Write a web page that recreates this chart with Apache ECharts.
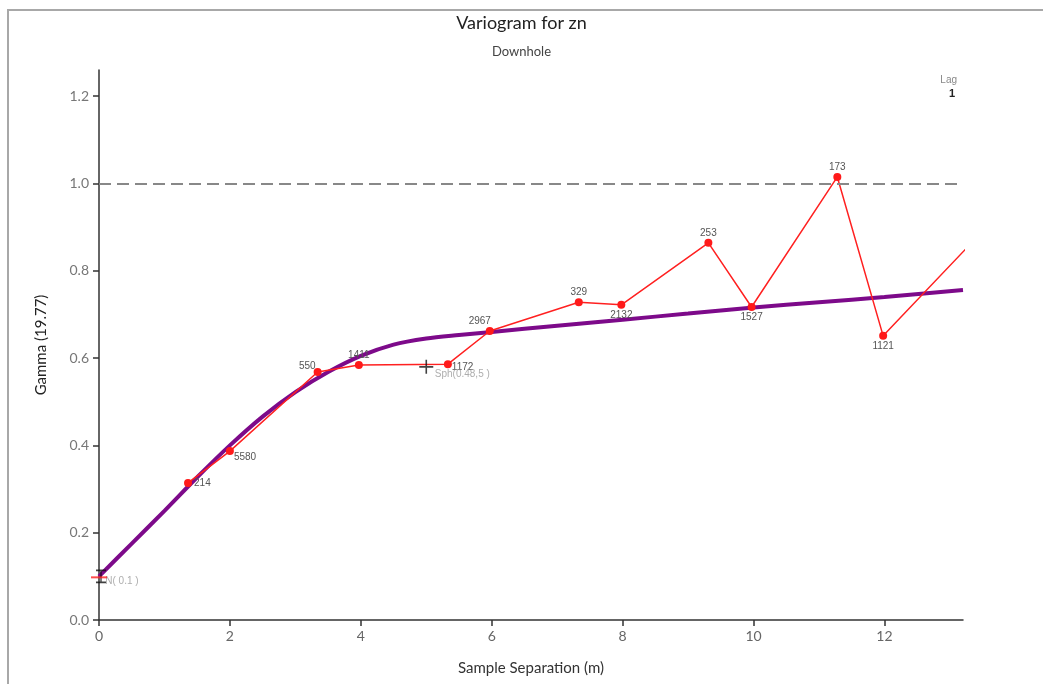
<!DOCTYPE html>
<html>
<head>
<meta charset="utf-8">
<title>Variogram for zn</title>
<script src="https://cdn.jsdelivr.net/npm/echarts@6/dist/echarts.min.js"></script>
<style>
  html, body { margin: 0; padding: 0; background: #fff; }
  #chart { width: 1043px; height: 684px; }
</style>
</head>
<body>
<div id="chart"></div>
<script>
// Experimental variogram: lag distance (m), gamma, and pair count per lag
const lagDistance = [1.36, 2.0, 3.34, 3.97, 5.33, 5.97, 7.33, 7.98, 9.31, 9.97, 11.28, 11.98, 13.4];
const gammaValues = [0.314, 0.387, 0.568, 0.584, 0.586, 0.662, 0.728, 0.722, 0.864, 0.717, 1.015, 0.651, 0.875];
const pairCounts = ['214', '5580', '550', '1411', '1172', '2967', '329', '2132', '253', '1527', '173', '1121', ''];

// Fitted model curve (nugget + spherical + long-range structure)
const modelDistance = [0, 0.5, 1, 1.5, 2, 2.5, 3, 3.5, 4, 4.5, 5, 5.5, 6, 7, 8, 9, 10, 11, 12, 13.2];
const modelGamma = [0.100, 0.175, 0.250, 0.327, 0.400, 0.466, 0.522, 0.568, 0.605, 0.631, 0.645, 0.653, 0.660, 0.674, 0.688, 0.702, 0.716, 0.728, 0.740, 0.756];

// Model annotations
const nugget = 0.1;
const sphRange = 5;
const sphSill = 0.48;
const nuggetLabel = 'N( 0.1 )';
const sphLabel = 'Sph(0.48,5 )';

const sillLevel = 1.0;
const xTicks = [0, 2, 4, 6, 8, 10, 12];
const yTicks = [0, 0.2, 0.4, 0.6, 0.8, 1.0, 1.2];

// label placement around each lag point
const labelSide = ['right', 'right', 'left', 'top', 'right', 'top', 'top', 'bottom', 'top', 'bottom', 'top', 'bottom', 'top'];
const labelShift = {
  right: [0, 0], left: [4, -6], top: [0, 1], bottom: [0, -1]
};

const FONT = 'Lato, "Open Sans", sans-serif';
const SMALL = '"Liberation Sans", Arial, sans-serif';

const chart = echarts.init(document.getElementById('chart'), null, { renderer: 'canvas' });

const lagData = lagDistance.map((x, i) => {
  const side = labelSide[i];
  const item = { value: [x, gammaValues[i]], label: { position: side, offset: labelShift[side] } };
  if (i === 1) item.label.offset = [-2, 6];
  if (i === 4) item.label.offset = [-2, 3];
  if (i === 5) item.label.offset = [-10, 1];
  return item;
});

chart.setOption({
  animation: false,
  backgroundColor: '#fff',
  title: {
    text: 'Variogram for zn',
    subtext: 'Downhole',
    left: 'center',
    top: 9,
    itemGap: 13,
    textStyle: { fontFamily: FONT, fontSize: 18, fontWeight: 'normal', color: '#222' },
    subtextStyle: { fontFamily: FONT, fontSize: 13, color: '#444' }
  },
  grid: { left: 99, right: 80, top: 70, bottom: 64, containLabel: false },
  xAxis: {
    type: 'value',
    min: 0,
    max: 13.2,
    name: 'Sample Separation (m)',
    nameLocation: 'middle',
    nameGap: 41,
    nameTextStyle: { fontFamily: FONT, fontSize: 15, color: '#333' },
    axisLine: { lineStyle: { color: '#333', width: 1.5 } },
    axisTick: { show: true, length: 6, customValues: xTicks, lineStyle: { color: '#333', width: 1.5 } },
    axisLabel: { customValues: xTicks, fontFamily: FONT, fontSize: 14, color: '#666', margin: 9,
      formatter: v => String(Math.round(v)) },
    splitLine: { show: false }
  },
  yAxis: {
    type: 'value',
    min: 0,
    max: 1.26,
    name: 'Gamma (19.77)',
    nameLocation: 'middle',
    nameGap: 50,
    nameRotate: 90,
    nameTextStyle: { fontFamily: FONT, fontSize: 15, color: '#222' },
    axisLine: { show: true, lineStyle: { color: '#333', width: 1.5 } },
    axisTick: { show: true, length: 6, customValues: yTicks, lineStyle: { color: '#333', width: 1.5 } },
    axisLabel: { customValues: yTicks, fontFamily: FONT, fontSize: 14, color: '#777', margin: 10,
      formatter: v => v.toFixed(1) },
    splitLine: { show: false }
  },
  series: [
    {
      name: 'model',
      type: 'line',
      data: modelDistance.map((x, i) => [x, modelGamma[i]]),
      smooth: 0.3,
      showSymbol: false,
      lineStyle: { color: '#7d0a8a', width: 4 },
      z: 3,
      markLine: {
        silent: true,
        symbol: 'none',
        label: { show: false },
        lineStyle: { color: '#888', width: 2, type: [12, 6] },
        data: [{ yAxis: sillLevel }]
      }
    },
    {
      name: 'experimental',
      type: 'line',
      data: lagData,
      clip: true,
      symbol: 'circle',
      symbolSize: 8,
      showAllSymbol: true,
      lineStyle: { color: '#ff2020', width: 1.5 },
      itemStyle: { color: '#ff1a1a' },
      z: 4,
      label: {
        show: true,
        formatter: p => pairCounts[p.dataIndex],
        fontFamily: SMALL,
        fontSize: 10,
        color: '#555',
        distance: 2
      }
    },
    {
      // nugget marker on the gamma axis
      name: 'nugget-tick',
      type: 'scatter',
      data: [[0, nugget]],
      symbol: 'path://M0,0H10M5,0V12M0,12H10',
      symbolSize: [10, 12],
      symbolOffset: [2, 0],
      itemStyle: { color: 'none', borderColor: '#111', borderWidth: 1.5 },
      z: 5,
      label: {
        show: true, formatter: nuggetLabel, position: 'right', distance: 0, offset: [-3, 5],
        fontFamily: SMALL, fontSize: 10, color: '#999'
      }
    },
    {
      name: 'nugget-level',
      type: 'scatter',
      data: [[0, nugget]],
      symbol: 'rect',
      symbolSize: [16, 2],
      symbolOffset: [0, 1],
      itemStyle: { color: '#ff2020' },
      z: 6
    },
    {
      // range / sill marker of the spherical structure
      name: 'sph-marker',
      type: 'scatter',
      data: [[sphRange, nugget + sphSill]],
      symbol: 'path://M0,7H14M7,0V14',
      symbolSize: 14,
      itemStyle: { color: 'none', borderColor: '#111', borderWidth: 1.6 },
      z: 5,
      label: {
        show: true, formatter: sphLabel, position: 'right', distance: 0, offset: [-1, 7],
        fontFamily: SMALL, fontSize: 10, color: '#999'
      }
    }
  ],
  graphic: [
    {
      type: 'rect',
      shape: { x: 8, y: 10, width: 1100, height: 720 },
      style: { fill: 'none', stroke: '#a8a8a8', lineWidth: 2 },
      silent: true,
      z: -1
    },
    {
      type: 'text',
      right: 86,
      top: 75,
      style: { text: 'Lag', fontFamily: SMALL, fontSize: 10, fill: '#888' }
    },
    {
      type: 'text',
      right: 88,
      top: 88,
      style: { text: '1', fontFamily: SMALL, fontSize: 11, fill: '#222', fontWeight: 'bold' }
    }
  ]
});
</script>
</body>
</html>
